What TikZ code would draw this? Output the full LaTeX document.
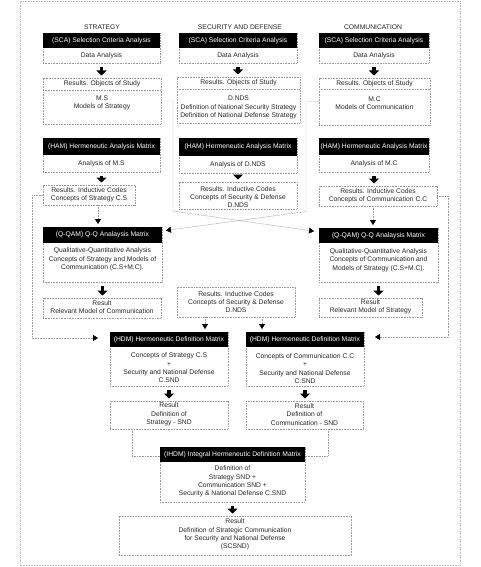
\documentclass[tikz,border=0pt]{standalone}
\usepackage{fontspec}
\setmainfont{Liberation Sans}
\usetikzlibrary{arrows.meta,calc}
\newcommand\fs{\fontsize{6.75}{8.3}\selectfont}
\tikzset{
  frame/.style={draw=gray!80, dash pattern=on 1pt off 0.6pt, line width=0.45pt, inner sep=0, outer sep=0},
  hdr/.style={fill=black, inner sep=0, outer sep=0, text=white, font=\fs},
  txt/.style={inner sep=0, align=center, font=\fs, text=black!85},
  conn/.style={draw=gray!80, dash pattern=on 1pt off 0.6pt, line width=0.45pt},
  tip/.style={conn, -{Triangle[width=6pt,length=5pt,color=black]}},
  fat/.style={draw=black, line width=3.5pt, -{Triangle[width=10pt,length=5pt]}, shorten <=4pt, shorten >=2.5pt},
  outer/.style={draw=gray!55, dash pattern=on 0.8pt off 0.8pt, line width=0.5pt},
}
\newcommand\bx[5]{\node[frame, minimum width={(#4)-(#2)}, minimum height={(#5)-(#3)}] (#1) at ({((#2)+(#4))/2},{((#3)+(#5))/2}) {};}
\newcommand\hd[6]{\node[hdr, minimum width={(#4)-(#2)}, minimum height={(#5)-(#3)}] (#1) at ({((#2)+(#4))/2},{((#3)+(#5))/2}) {#6};}
\newcommand\divl[2]{\draw[conn] ($(#1.north west)+(0,#2)$) -- ($(#1.north east)+(0,#2)$);}
\begin{document}
\begin{tikzpicture}[x=1pt,y=-1pt]
\useasboundingbox (0,0) rectangle (481,567);
\draw[outer] (20,1.5) rectangle (460,565);
% column headers
\node[txt] (hS) at (102,27) {STRATEGY};
\node[txt] (hD) at (240,27) {SECURITY AND DEFENSE};
\node[txt] (hC) at (373,27) {COMMUNICATION};
% SCA
\bx{sca1}{43}{33}{160}{63}
\hd{sca1h}{43}{33}{160}{48}{(SCA) Selection Criteria Analysis}
\node[txt] (sca1t) at (101.5,55.5) {Data Analysis};
\bx{sca2}{179}{33}{297}{63}
\hd{sca2h}{179}{33}{297}{48}{(SCA) Selection Criteria Analysis}
\node[txt] (sca2t) at (238,55.5) {Data Analysis};
\bx{sca3}{319}{33}{429}{63}
\hd{sca3h}{319}{33}{429}{48}{(SCA) Selection Criteria Analysis}
\node[txt] (sca3t) at (374,55.5) {Data Analysis};
% Results objects
\bx{ros1}{43}{78}{161}{124}
\divl{ros1}{12}
\node[txt] (ros1a) at (102,84) {Results. Objects of Study};
\node[txt] (ros1b) at (102,102.5) {M.S\\Models of Strategy};
\bx{ros2}{177}{77}{300}{123}
\divl{ros2}{12}
\node[txt] (ros2a) at (238.5,83) {Results. Objects of Study};
\node[txt] (ros2b) at (238.5,107.5) {D.NDS\\Definition of National Security Strategy\\Definition of National Defense Strategy};
\bx{ros3}{319}{78}{430}{125}
\divl{ros3}{11}
\node[txt] (ros3a) at (374.5,84) {Results. Objects of Study};
\node[txt] (ros3b) at (374.5,103) {M.C\\Models of Communication};
% HAM
\bx{ham1}{43}{138}{160}{172}
\hd{ham1h}{43}{138}{160}{155}{(HAM) Hermeneutic Analysis Matrix}
\node[txt] (ham1t) at (101.5,163.5) {Analysis of M.S};
\bx{ham2}{179}{138}{297}{173}
\hd{ham2h}{179}{138}{297}{156}{(HAM) Hermeneutic Analysis Matrix}
\node[txt] (ham2t) at (238,164.5) {Analysis of D.NDS};
\bx{ham3}{319}{138}{429}{172}
\hd{ham3h}{319}{138}{429}{155}{(HAM) Hermeneutic Analysis Matrix}
\node[txt] (ham3t) at (374,163.5) {Analysis of M.C};
% Results inductive
\bx{ric1}{43}{185}{135}{205}
\node[txt] (ric1t) at (89,194.5) {Results. Inductive Codes\\Concepts of Strategy C.S};
\bx{ric2}{179}{182}{297}{209}
\node[txt] (ric2t) at (238,197) {Results. Inductive Codes\\Concepts of Security \& Defense\\D.NDS};
\bx{ric3}{319}{186}{437}{206}
\node[txt] (ric3t) at (378,195.5) {Results. Inductive Codes\\Concepts of Communication C.C};
% Q-QAM
\bx{qq1}{43}{227}{162}{282}
\hd{qq1h}{43}{227}{162}{243}{(Q-QAM) Q-Q Analaysis Matrix}
\node[txt] (qq1t) at (102.5,259.5) {Qualitative-Quantitative Analysis\\Concepts of Strategy and Models of\\Communication (C.S+M.C).};
\bx{qq2}{319}{228}{438}{282}
\hd{qq2h}{319}{228}{438}{243}{(Q-QAM) Q-Q Analaysis Matrix}
\node[txt] (qq2t) at (378.5,260) {Qualitative-Quantitative Analysis\\Concepts of Communication and\\Models of Strategy (C.S+M.C).};
% Results
\bx{res1}{43}{298}{161}{318}
\node[txt] (res1t) at (102,307) {Result\\Relevant Model of Communication};
\bx{res2}{319}{298}{422}{317}
\node[txt] (res2t) at (370.5,307) {Result\\Relevant Model of Strategy};
\bx{ricb}{177}{287}{295}{317}
\node[txt] (ricbt) at (236,302) {Results. Inductive Codes\\Concepts of Security \& Defense\\D.NDS};
% HDM
\bx{hdm1}{110}{332}{228}{386}
\hd{hdm1h}{110}{332}{228}{347}{(HDM) Hermeneutic Definition Matrix}
\node[txt] (hdm1t) at (169,368) {Concepts of Strategy C.S\\+\\Security and National Defense\\C.SND};
\bx{hdm2}{246}{332}{364}{386}
\hd{hdm2h}{246}{332}{364}{347}{(HDM) Hermeneutic Definition Matrix}
\node[txt] (hdm2t) at (305,368.5) {Concepts of Communication C.C\\+\\Security and National Defense\\C.SND};
% Result definitions
\bx{rd1}{110}{401}{228}{429}
\node[txt] (rd1t) at (169,414.5) {Result\\Definition of\\Strategy - SND};
\bx{rd2}{246}{401}{363}{429}
\node[txt] (rd2t) at (304.5,414.5) {Result\\Definition of\\Communication - SND};
% IHDM
\bx{ih}{160}{447}{305}{502}
\hd{ihh}{160}{447}{305}{462}{(IHDM) Integral Hermeneutic Definition Matrix}
\node[txt] (iht) at (232.5,481.5) {Definition of\\Strategy SND +\\Communication SND +\\Security \& National Defense C.SND};
% Final
\bx{fin}{119}{516}{351}{555}
\node[txt] (fint) at (235,534.5) {Result\\Definition of Strategic Communication\\for Security and National Defense\\(SCSND)};
% fat arrows
\draw[fat] (sca1.south) -- (sca1.south |- ros1.north);
\draw[fat] (sca2.south) -- (sca2.south |- ros2.north);
\draw[fat] (sca3.south) -- (sca3.south |- ros3.north);
\draw[fat] (ham1.south) -- (ham1.south |- ric1.north);
\draw[fat] (ham2.south) -- (ham2.south |- ric2.north);
\draw[fat] (ham3.south) -- (ham3.south |- ric3.north);
\draw[fat] (qq1.south) -- (qq1.south |- res1.north);
\draw[fat] (qq2.south) -- (qq2.south |- res2.north);
\draw[fat] (hdm1.south) -- (hdm1.south |- rd1.north);
\draw[fat] (hdm2.south) -- (hdm2.south |- rd2.north);
\draw[fat] (ih.south) -- (ih.south |- fin.north);
% connectors
\draw[tip, shorten >=5pt] (ros1.east) -- ++(12,0) -- ++(0,110) -- ([yshift=-4pt]qq2.north west);
\draw[tip, shorten >=4pt] (ros3.west) -- ++(-13,0) -- ++(0,110) -- ([yshift=-4pt]qq1.north east);
\draw[tip, shorten >=12pt] (ric1.west) -- ++(-11,0) |- ([yshift=-6pt]hdm1.north west);
\draw[tip, shorten >=11pt] (ric3.east) -- ++(11,0) |- ([yshift=-5pt]hdm2.north east);
\draw[tip, shorten >=3pt] ([xshift=9pt]ric1.south) -- ([xshift=9pt]ric1.south |- qq1.north);
\draw[tip, shorten >=3pt] ([xshift=-5pt]ric3.south) -- ([xshift=-5pt]ric3.south |- qq2.north);
\draw[tip, shorten >=3pt] ([xshift=-31pt]ricb.south) -- ([xshift=-31pt]ricb.south |- hdm1.north);
\draw[tip, shorten >=3pt] ([xshift=26pt]ricb.south) -- ([xshift=26pt]ricb.south |- hdm2.north);
\draw[conn] ([xshift=-37pt]rd1.south) |- ([yshift=-9pt]ih.north west);
\draw[conn] ([xshift=23.5pt]rd2.south) |- ([yshift=-9pt]ih.north east);
\end{tikzpicture}
\end{document}
